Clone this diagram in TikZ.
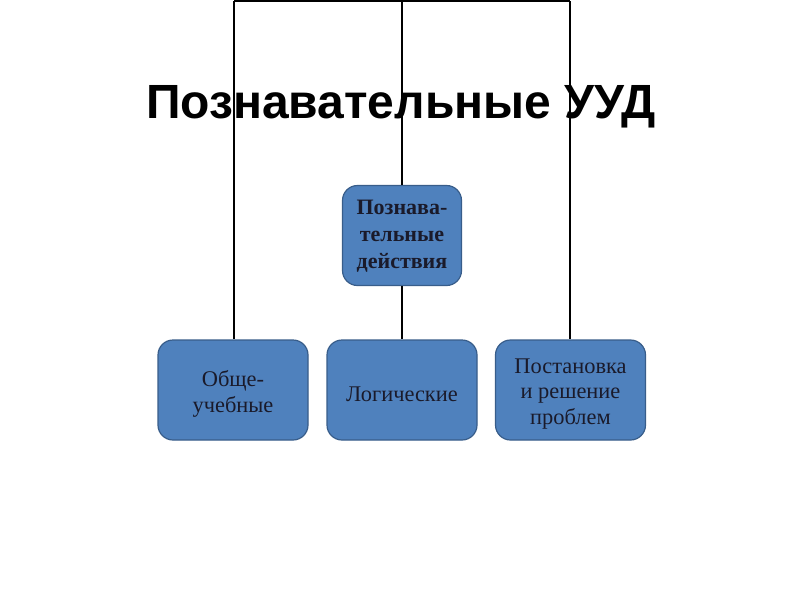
\documentclass[tikz,border=0pt]{standalone}
\usepackage{fontspec}
\setmainfont{Liberation Serif}
\newfontfamily\titlefont{Liberation Sans}
\definecolor{boxfill}{HTML}{4F81BD}
\definecolor{boxline}{HTML}{385D8A}
\definecolor{boxtext}{HTML}{1A1A2A}
\begin{document}
\begin{tikzpicture}[x=1pt,y=-1pt,
  ubox/.style={draw=boxline,line width=1.2pt,fill=boxfill,rounded corners=15pt,
    minimum width=#1,minimum height=100pt,inner sep=0pt},
  utxt/.style={align=center,inner sep=0pt,text=boxtext,font=\fontsize{22.4}{25.5}\selectfont},
  conn/.style={line width=1.8pt,draw=black}]
\useasboundingbox[fill=white] (0,0) rectangle (800,600);
\coordinate (tl) at (234,1);
\coordinate (tm) at (402,1);
\coordinate (tr) at (570,1);
\node[ubox=119pt] (c) at (402,235.5) {};
\node[ubox=150pt] (l) at (233,390) {};
\node[ubox=150pt] (m) at (402,390) {};
\node[ubox=150pt] (r) at (570.5,390) {};
\node[utxt,font=\fontsize{22}{27}\selectfont\bfseries] (ct) at ([yshift=-1pt]c.center) {Познава-\\тельные\\действия};
\node[utxt] (lt) at ([yshift=-4pt]l.center) {Обще-\\учебные};
\node[utxt] (mt) at ([yshift=-4pt]m.center) {Логические};
\node[utxt] (rt) at ([yshift=-4pt]r.center) {Постановка\\ и решение\\ проблем};
\draw[conn] (tl) -- (tr);
\draw[conn] (tl) -- (tl |- l.north);
\draw[conn] (tm) -- (c.north);
\draw[conn] (c.south) -- (m.north);
\draw[conn] (tr) -- (tr |- r.north);
\node[font=\titlefont\fontsize{48}{52}\selectfont\bfseries] (title) at (401,107) {Познавательные УУД};
\end{tikzpicture}
\end{document}
